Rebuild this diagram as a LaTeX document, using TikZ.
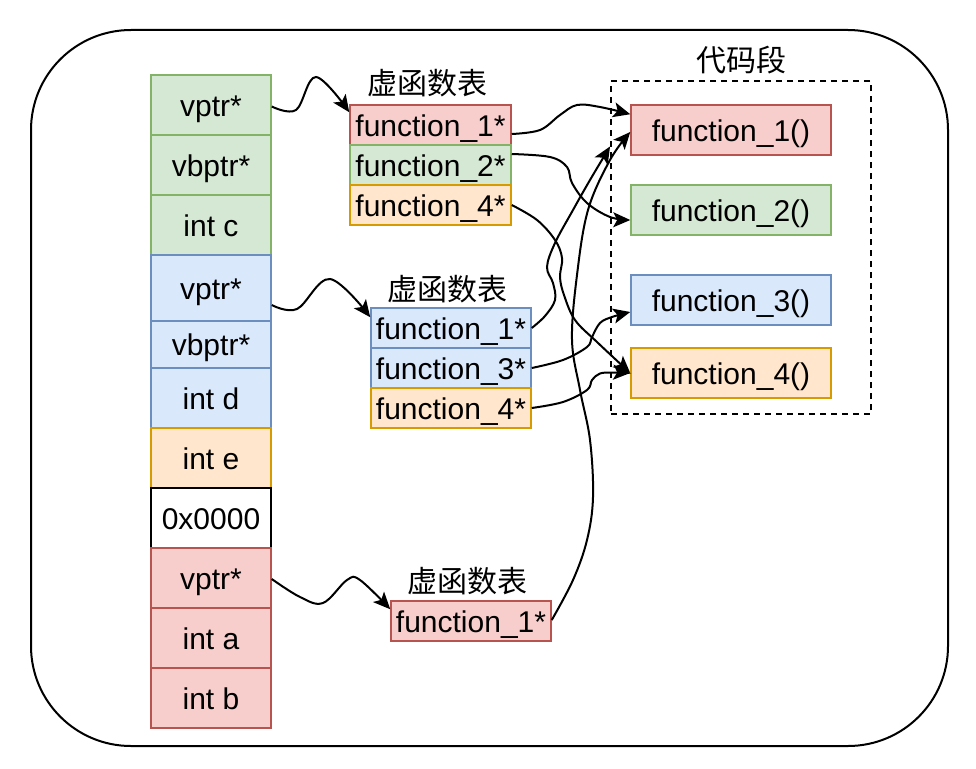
\documentclass[tikz,border=0pt]{standalone}
\usepackage{fontspec}
\setmainfont{Liberation Sans}
\newfontfamily\cjk{Noto Sans CJK SC}
\usetikzlibrary{arrows.meta,calc}
\definecolor{gfill}{HTML}{D5E8D4}\definecolor{gline}{HTML}{82B366}
\definecolor{bfill}{HTML}{DAE8FC}\definecolor{bline}{HTML}{6C8EBF}
\definecolor{ofill}{HTML}{FFE6CC}\definecolor{oline}{HTML}{D79B00}
\definecolor{rfill}{HTML}{F8CECC}\definecolor{rline}{HTML}{B85450}
\begin{document}
\begin{tikzpicture}[x=1pt,y=-1pt,
  txt/.style={font=\fontsize{30}{36}\selectfont, text height=22pt, text depth=0pt, inner sep=0pt},
  cell/.style={txt, draw, line width=1.5pt, minimum width=120pt},
  tcell/.style={txt, draw, line width=1.5pt, minimum width=160pt, minimum height=40pt},
  fcell/.style={txt, draw, line width=1.5pt, minimum width=200pt, minimum height=50pt},
  green/.style={fill=gfill, draw=gline},
  blue/.style={fill=bfill, draw=bline},
  orange/.style={fill=ofill, draw=oline},
  red/.style={fill=rfill, draw=rline},
  lbl/.style={font=\cjk\fontsize{30}{34}\selectfont, inner sep=0pt, anchor=base},
  conn/.style={line width=2pt, -{Stealth[length=17pt,width=15pt,inset=4pt]}}
]
\useasboundingbox (0,0) rectangle (976,768);
% outer frame
\draw[line width=2pt, rounded corners=100pt] (31,30) rectangle (948,746);
% left column
\node[cell, green, minimum height=60pt] (g1) at (211,105) {vptr*};
\node[cell, green, minimum height=60pt] (g2) at (211,165) {vbptr*};
\node[cell, green, minimum height=60pt] (g3) at (211,225) {int c};
\node[cell, blue, minimum height=66pt] (b1) at (211,288) {vptr*};
\node[cell, blue, minimum height=47pt] (b2) at (211,344.5) {vbptr*};
\node[cell, blue, minimum height=60pt] (b3) at (211,398) {int d};
\node[cell, orange, minimum height=60pt] (o1) at (211,458) {int e};
\node[cell, fill=white, draw=black, minimum height=60pt] (w1) at (211,518) {0x0000};
\node[cell, red, minimum height=60pt] (r1) at (211,578) {vptr*};
\node[cell, red, minimum height=60pt] (r2) at (211,638) {int a};
\node[cell, red, minimum height=60pt] (r3) at (211,698) {int b};
% table 1
\node[lbl] (l1) at (427,94) {虚函数表};
\node[tcell, red, minimum width=161pt] (ta) at (430.5,125) {function\_1*};
\node[tcell, green, minimum width=161pt] (tb) at (430.5,165) {function\_2*};
\node[tcell, orange, minimum width=161pt] (tc) at (430.5,205) {function\_4*};
% table 2
\node[lbl] (l2) at (447,300) {虚函数表};
\node[tcell, blue] (ua) at (451,328) {function\_1*};
\node[tcell, blue] (ub) at (451,368) {function\_3*};
\node[tcell, orange] (uc) at (451,408) {function\_4*};
% table 3
\node[lbl] (l3) at (467,592) {虚函数表};
\node[tcell, red] (va) at (471,621) {function\_1*};
% code segment
\node[lbl] (l4) at (741,71) {代码段};
\node[draw, dashed, dash pattern=on 6pt off 5pt, line width=2pt, minimum width=260pt, minimum height=333pt, inner sep=0pt] (cs) at (741,247.5) {};
\node[fcell, red] (F1) at (731,130) {function\_1()};
\node[fcell, green] (F2) at (731,210) {function\_2()};
\node[fcell, blue] (F3) at (731,300) {function\_3()};
\node[fcell, orange] (F4) at (731,373) {function\_4()};
% endpoints
\coordinate (s1) at ($(g1.east)+(0,1.5)$);
\coordinate (e1) at ($(ta.north west)+(0,8)$);
\coordinate (s2) at ($(b1.east)+(0,17)$);
\coordinate (e2) at ($(ua.north west)+(0,10)$);
\coordinate (s3) at ($(r1.east)+(0,1)$);
\coordinate (e3) at ($(va.north west)+(0,9)$);
\coordinate (s4) at ($(ta.east)+(0,9)$);
\coordinate (e4) at ($(F1.north west)+(0,10)$);
\coordinate (s5) at ($(tb.east)+(0,-11)$);
\coordinate (e5) at ($(F2.west)+(0,10)$);
\coordinate (e7) at ($(cs.west)+(0,-101)$);
\coordinate (s8) at ($(va.east)+(0,-1)$);
\coordinate (e8) at ($(F1.west)+(0,2)$);
\coordinate (e9) at ($(F3.west)+(0,12)$);
% connectors
\draw[conn] plot[smooth, tension=0.6] coordinates {(s1) (296,110) (316,77) (e1)};
\draw[conn] plot[smooth, tension=0.6] coordinates {(s2) (297,309) (330,279) (e2)};
\draw[conn] plot[smooth, tension=0.6] coordinates {(s3) (300,597) (323,603) (347,580) (360,580) (e3)};
\draw[conn] plot[smooth, tension=0.6] coordinates {(s4) (540,130) (560,115) (577,105) (600,107) (e4)};
\draw[conn] plot[smooth, tension=0.6] coordinates {(s5) (550,157) (567,167) (572,183) (587,203) (610,217) (e5)};
\draw[conn] plot[smooth, tension=0.6] coordinates {(tc.east) (537,220) (555,240) (562,258) (560,277) (564,295) (575,320) (597,342) (F4.west)};
\draw[conn] plot[smooth, tension=0.6] coordinates {(ua.east) (545,316) (555,300) (553,283) (547,267) (555,243) (573,210) (590,180) (e7)};
\draw[conn] plot[smooth, tension=0.6] coordinates {(s8) (573,580) (587,540) (593,497) (590,440) (580,390) (572,340) (577,275) (588,210) (610,160) (e8)};
\draw[conn] plot[smooth, tension=0.6] coordinates {(ub.east) (563,360) (587,347) (592,337) (600,323) (612,317) (e9)};
\draw[conn] plot[smooth, tension=0.6] coordinates {(uc.east) (563,402) (587,390) (592,380) (600,373.5) (613,372.5) (F4.west)};
\end{tikzpicture}
\end{document}
